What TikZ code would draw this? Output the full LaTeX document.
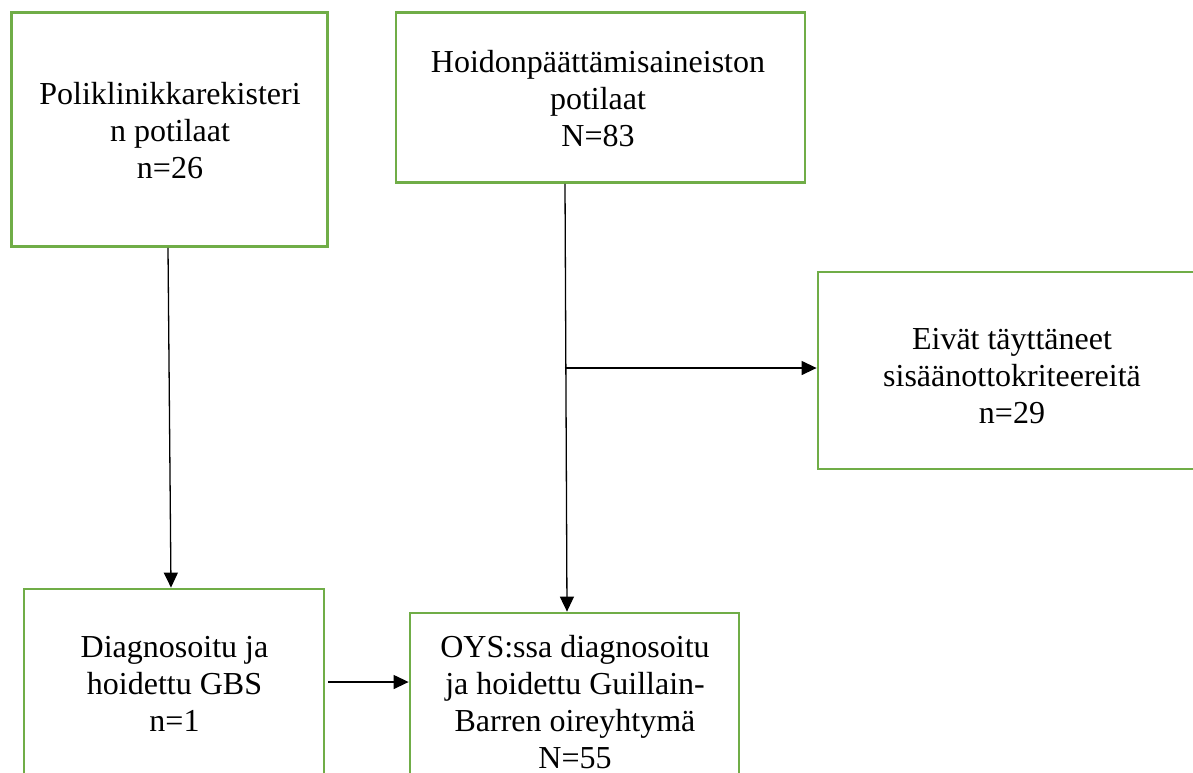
\documentclass[tikz,border=0pt]{standalone}
\usepackage{fontspec}
\setmainfont{Liberation Serif}
\usetikzlibrary{arrows.meta}
\definecolor{boxgreen}{RGB}{112,173,71}
\begin{document}
\begin{tikzpicture}[x=1pt,y=-1pt,
  box/.style={draw=boxgreen,line width=2.8pt,rectangle,inner sep=0pt},
  txt/.style={align=center,font=\fontsize{32}{37}\selectfont,inner sep=0pt},
  arr/.style={line width=1.3pt,-{Triangle[length=15pt,width=14pt]}}]
\useasboundingbox (0,0) rectangle (1193,772);
\clip (0,0) rectangle (1193,772);
\node[box,minimum width=316pt,minimum height=234pt] (b1) at (169.5,129.5) {};
\node[box,minimum width=409pt,minimum height=170pt] (b2) at (600.5,97.5) {};
\node[box,minimum width=390pt,minimum height=197pt] (b3) at (1013,370.5) {};
\node[box,minimum width=300pt,minimum height=202pt] (b4) at (174,690) {};
\node[box,minimum width=329pt,minimum height=168pt] (b5) at (574.5,697) {};
\node[txt] (t1) at (170,130.5) {Poliklinikkarekisteri\\n potilaat\\n=26};
\node[txt] (t2) at (598,98.5) {Hoidonpäättämisaineiston\\potilaat\\N=83};
\node[txt] (t3) at (1012,376.5) {Eivät täyttäneet\\sisäänottokriteereitä\\n=29};
\node[txt] (t4) at (174.5,683.5) {Diagnosoitu ja\\hoidettu GBS\\n=1};
\node[txt] (t5) at (575,702) {OYS:ssa diagnosoitu\\ja hoidettu Guillain-\\Barren oireyhtymä\\N=55};
\draw[arr] ([xshift=-1.5pt]b1.south) -- ([xshift=-3pt]b4.north);
\draw[arr] ([xshift=-35.5pt]b2.south) -- ([xshift=-7.5pt]b5.north);
\coordinate (br) at (564.5,368);
\draw[arr] (br) -- (br -| b3.west);
\coordinate (h) at (328,682);
\draw[arr] (h) -- (h -| b5.west);
\end{tikzpicture}
\end{document}
